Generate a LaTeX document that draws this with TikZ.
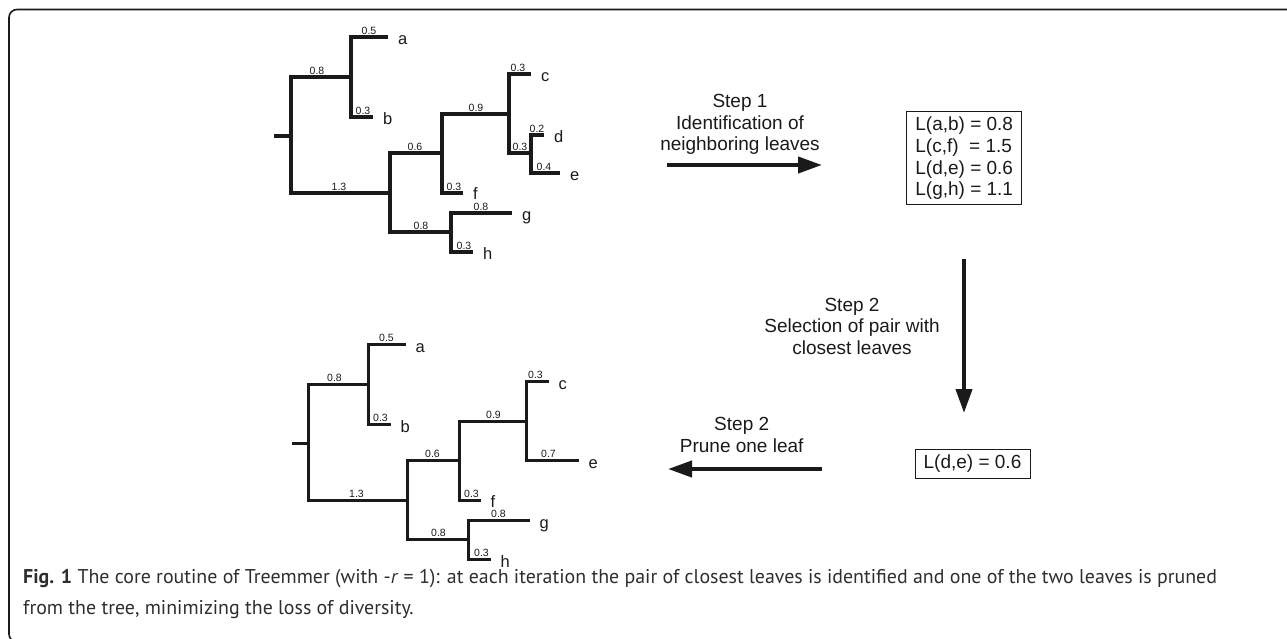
\documentclass[tikz,border=0pt]{standalone}
\usepackage{fontspec}
\setmainfont{Liberation Sans}
\newfontfamily\capfont{PT Sans}
\usetikzlibrary{arrows.meta}
\definecolor{ink}{HTML}{1A1A1A}
\definecolor{capgray}{HTML}{2E2E2E}
\newcommand\commontree[1]{%
  \draw[br] (274,136) -- (291,136);
  \draw[br] (351,77) -- (291,77) -- (291,193) -- (390,193);
  \draw[br] (388,37) -- (351,37) -- (351,117) -- (373,117);
  \draw[br] (442,153) -- (390,153) -- (390,232) -- (451,232);
  \draw[br] (509,114) -- (442,114) -- (442,193) -- (463,193);
  \draw[br] (512,213) -- (451,213) -- (451,252) -- (473,252);
  \node[bl] (l08u#1) at (317,74) {0.8};
  \node[bl] (l05#1) at (369,34) {0.5};
  \node[bl] (l03b#1) at (363,114) {0.3};
  \node[bl] (l13#1) at (339,190) {1.3};
  \node[bl] (l06#1) at (415,150) {0.6};
  \node[bl] (l09#1) at (476,111) {0.9};
  \node[bl] (l03c#1) at (518,71) {0.3};
  \node[bl] (l03f#1) at (454,190) {0.3};
  \node[bl] (l08l#1) at (421,229) {0.8};
  \node[bl] (l08g#1) at (481,210) {0.8};
  \node[bl] (l03h#1) at (464,249) {0.3};
  \node[lf] (a#1) at (398,44.5) {a};
  \node[lf] (b#1) at (383,124.5) {b};
  \node[lf] (c#1) at (541,81.5) {c};
  \node[lf] (f#1) at (473,199.5) {f};
  \node[lf] (g#1) at (522,220.5) {g};
  \node[lf] (h#1) at (483,259.5) {h};
}
\begin{document}
\begin{tikzpicture}[x=1pt,y=-1pt,
  br/.style={line width=3.3pt, draw=ink, line join=miter},
  bl/.style={font=\fontsize{10.5}{10.5}\selectfont, anchor=base, inner sep=0pt, text=ink},
  lf/.style={font=\fontsize{16.5}{16.5}\selectfont, anchor=base west, inner sep=0pt, text=ink},
  steptext/.style={font=\fontsize{19}{21.5}\selectfont, align=center, inner sep=0pt, text=ink},
  lbox/.style={draw=ink, line width=1pt, font=\fontsize{19}{21.7}\selectfont, align=left, inner sep=0pt, minimum width=115pt, text=ink},
  bigarrow/.style={line width=4pt, draw=ink, -{Triangle[length=24pt,width=16pt]}},
  capstyle/.style={font=\capfont\fontsize{19.9}{19.9}\selectfont, anchor=base west, inner sep=0pt, text=capgray}]
\clip (0,0) rectangle (1287,638);
\draw[line width=1.6pt, draw=ink, rounded corners=8pt] (9,9.5) rectangle (1300,642);

% tree 1
\commontree{1}
\draw[br] (531,74) -- (509,74) -- (509,153) -- (531,153);
\draw[br] (544,135) -- (531,135) -- (531,173) -- (560,173);
\node[bl] (l03de1) at (520,150) {0.3};
\node[bl] (l021) at (537,132) {0.2};
\node[bl] (l041) at (544,170) {0.4};
\node[lf] (d1) at (554,142.5) {d};
\node[lf] (e1) at (570,180.5) {e};

% tree 2
\begin{scope}[shift={(17.5,307.5)}]
\commontree{2}
\draw[br] (531,74) -- (509,74) -- (509,153) -- (561,153);
\node[bl] (l072) at (531,150) {0.7};
\node[lf] (e2) at (571,160.5) {e};
\end{scope}

% step texts
\node[steptext] (t1) at (740,124.5) {Step 1\\Identification of\\neighboring leaves};
\node[steptext] (t2) at (852,326) {Step 2\\Selection of pair with\\closest leaves};
\node[steptext] (t3) at (741.7,435) {Step 2\\Prune one leaf};

% boxes
\node[lbox, minimum height=93pt] (L1) at (964.2,158.3) {L(a,b) = 0.8\\L(c,f)~ = 1.5\\L(d,e) = 0.6\\L(g,h) = 1.1};
\node[lbox, minimum height=29.4pt] (L2) at (972.5,464) {L(d,e) = 0.6};

% arrows
\coordinate (s1a) at (667,165);
\coordinate (s1b) at (822,165);
\coordinate (s2a) at (964,259);
\coordinate (s2b) at (964,413);
\coordinate (s3a) at (822,469);
\coordinate (s3b) at (668,469);
\draw[bigarrow] (s1a) -- (s1b);
\draw[bigarrow] (s2a) -- (s2b);
\draw[bigarrow] (s3a) -- (s3b);

% caption
\node[capstyle] (cap1) at (23,583) {\textbf{Fig. 1} The core routine of Treemmer (with -\textit{r} = 1): at each iteration the pair of closest leaves is identified and one of the two leaves is pruned};
\node[capstyle] (cap2) at (23,614) {from the tree, minimizing the loss of diversity.};
\end{tikzpicture}
\end{document}
